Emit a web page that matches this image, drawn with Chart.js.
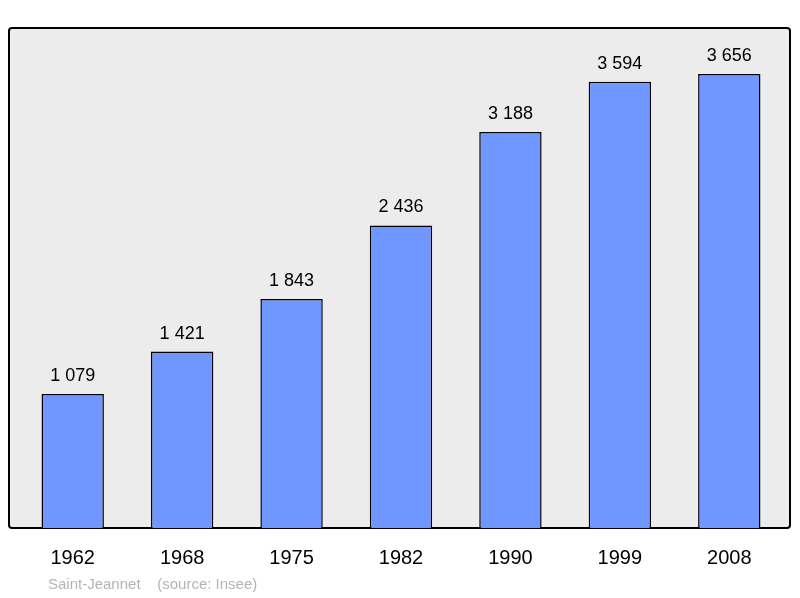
<!DOCTYPE html>
<html><head><meta charset="utf-8">
<script src="https://cdn.jsdelivr.net/npm/chart.js@4"></script>
<style>html,body{margin:0;padding:0;background:#fff}#c{display:block}</style>
</head><body>
<div style="width:800px;height:598px"><canvas id="c" width="800" height="598"></canvas></div>
<script>
const years = ["1962","1968","1975","1982","1990","1999","2008"];
const population = [1079,1421,1843,2436,3188,3594,3656];
const valueLabels = ["1 079","1 421","1 843","2 436","3 188","3 594","3 656"];
const footer = "Saint-Jeannet    (source: Insee)";

const deco = {
  id:'deco',
  beforeDraw(chart){
    const ctx = chart.ctx;
    ctx.save();
    ctx.fillStyle='#ececec';
    ctx.strokeStyle='#000';
    ctx.lineWidth=2;
    ctx.beginPath();
    ctx.roundRect(9,28,781,500,3);
    ctx.fill();ctx.stroke();
    ctx.restore();
  },
  afterDatasetsDraw(chart){
    const ctx = chart.ctx, xs = chart.scales.x, ys = chart.scales.y;
    ctx.save();
    ctx.fillStyle='#000';
    ctx.textAlign='center';
    ctx.font='18px "Liberation Sans", Arial, sans-serif';
    ctx.textBaseline='alphabetic';
    population.forEach((v,i)=>{
      ctx.fillText(valueLabels[i], xs.getPixelForValue(i), ys.getPixelForValue(v)-13);
    });
    ctx.font='20px "Liberation Sans", Arial, sans-serif';
    years.forEach((y,i)=>{
      ctx.fillText(y, xs.getPixelForValue(i), 564);
    });
    ctx.textAlign='left';
    ctx.fillStyle='#b4b4b4';
    ctx.font='15px "Liberation Sans", Arial, sans-serif';
    ctx.fillText(footer, 48, 589);
    ctx.restore();
  }
};

new Chart(document.getElementById('c'),{
  type:'bar',
  data:{labels:years,datasets:[{data:population,backgroundColor:'#7096ff',borderColor:'#000',borderWidth:1.5,barPercentage:0.57,categoryPercentage:1}]},
  options:{
    responsive:false,animation:false,
    layout:{padding:{left:18,right:16,top:28,bottom:70}},
    plugins:{legend:{display:false},tooltip:{enabled:false}},
    scales:{
      x:{display:false},
      y:{display:false,min:0,max:4026}
    }
  },
  plugins:[deco]
});
</script>
</body></html>
